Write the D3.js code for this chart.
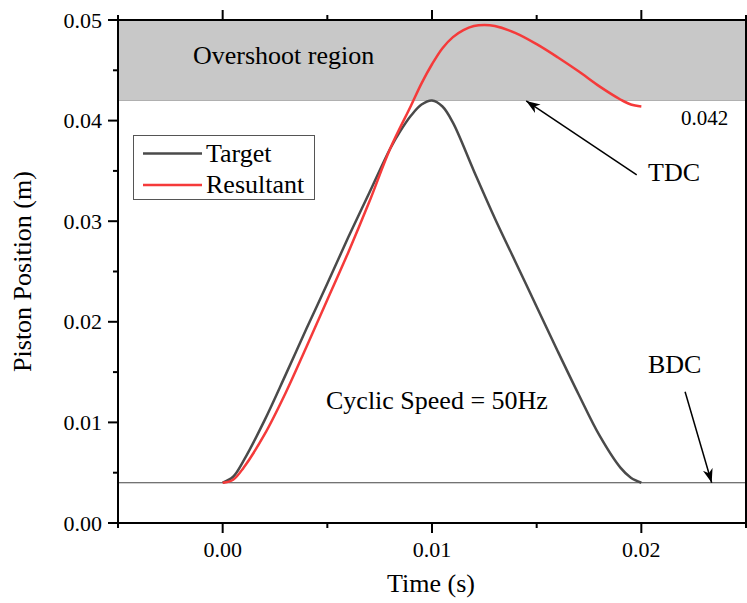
<!DOCTYPE html>
<html><head><meta charset="utf-8">
<script src="https://cdn.jsdelivr.net/npm/d3@7"></script>
<style>body{margin:0;background:#fff}svg{display:block}text{font-family:"Liberation Serif","Times New Roman",serif;fill:#000}</style>
</head><body><svg id="c" width="747" height="603"></svg>
<script>
// Data
const targetT = [0.0000,0.0005,0.0010,0.0020,0.0030,0.0040,0.0050,0.0060,0.0070,0.0080,0.0085,0.0090,0.0095,0.0100,0.0105,0.0110,0.0120,0.0130,0.0140,0.0150,0.0160,0.0170,0.0180,0.0190,0.0195,0.0200];
const targetV = [0.0040,0.0046,0.0062,0.0102,0.0147,0.0193,0.0238,0.0284,0.0328,0.0372,0.0390,0.0405,0.0416,0.0420,0.0414,0.0398,0.0350,0.0303,0.0259,0.0215,0.0171,0.0128,0.0087,0.0055,0.0045,0.0040];
const resultT = [0.0000,0.0005,0.0010,0.0020,0.0030,0.0040,0.0050,0.0060,0.0070,0.0080,0.0090,0.0095,0.0100,0.0105,0.0110,0.0115,0.0120,0.0125,0.0130,0.0140,0.0150,0.0160,0.0170,0.0180,0.0190,0.0195,0.0200];
const resultV = [0.0040,0.0043,0.0055,0.0088,0.0129,0.0175,0.0222,0.0269,0.0319,0.0372,0.0415,0.0437,0.0456,0.0472,0.0483,0.0490,0.0494,0.0495,0.0494,0.0487,0.0476,0.0463,0.0449,0.0434,0.0421,0.0416,0.0414];
const xTicks = [0.00,0.01,0.02];
const xMinor = [-0.005,0.005,0.015,0.025];
const yTicks = [0.00,0.01,0.02,0.03,0.04,0.05];
const yMinor = [0.005,0.015,0.025,0.035,0.045];
const seriesNames = ["Target","Resultant"];
const tdcLevel = 0.042, bdcLevel = 0.004, topLevel = 0.05;

const svg = d3.select("#c");
const L=118, R=746, T=20, B=523;
const x = d3.scaleLinear().domain([-0.005,0.025]).range([L,R]);
const y = d3.scaleLinear().domain([0,0.05]).range([B,T]);

svg.append("clipPath").attr("id","clip").append("rect").attr("x",L).attr("y",T).attr("width",R-L).attr("height",B-T);
const plot = svg.append("g").attr("clip-path","url(#clip)");

// Overshoot region
plot.append("rect").attr("x",L).attr("y",y(topLevel)).attr("width",R-L).attr("height",y(tdcLevel)-y(topLevel)).attr("fill","#c8c8c8");
plot.append("line").attr("x1",L).attr("x2",R).attr("y1",y(tdcLevel)).attr("y2",y(tdcLevel)).attr("stroke","#b0b0b0").attr("stroke-width",1.2);
// BDC line
plot.append("line").attr("x1",L).attr("x2",R).attr("y1",y(bdcLevel)).attr("y2",y(bdcLevel)).attr("stroke","#444").attr("stroke-width",1);

const line = d3.line().x(d=>x(d[0])).y(d=>y(d[1])).curve(d3.curveCatmullRom.alpha(0.5));
plot.append("path").datum(targetT.map((t,i)=>[t,targetV[i]])).attr("d",line).attr("fill","none").attr("stroke","#4a4a4a").attr("stroke-width",2.5);
plot.append("path").datum(resultT.map((t,i)=>[t,resultV[i]])).attr("d",line).attr("fill","none").attr("stroke","#f53a3a").attr("stroke-width",2.5);

// Axes
const ax = svg.append("g");
function ticks(g, scale, vals, len, orient){
  vals.forEach(v=>{
    const p = scale(v);
    if(orient==="bottom") g.append("line").attr("x1",p).attr("x2",p).attr("y1",B).attr("y2",B+len);
    if(orient==="top") g.append("line").attr("x1",p).attr("x2",p).attr("y1",T).attr("y2",T-len);
    if(orient==="left") g.append("line").attr("y1",p).attr("y2",p).attr("x1",L).attr("x2",L-len);
    if(orient==="right") g.append("line").attr("y1",p).attr("y2",p).attr("x1",R).attr("x2",R+len);
  });
}
const tg = ax.append("g").attr("stroke","#000").attr("stroke-width",2);
ticks(tg,x,xTicks,10,"bottom"); ticks(tg,x,xMinor,5,"bottom");
ticks(tg,x,xTicks,10,"top"); ticks(tg,x,xMinor,5,"top");
ticks(tg,y,yTicks,10,"left"); ticks(tg,y,yMinor,5,"left");
ticks(tg,y,yTicks,10,"right"); ticks(tg,y,yMinor,5,"right");
ax.append("rect").attr("x",L).attr("y",T).attr("width",R-L).attr("height",B-T).attr("fill","none").attr("stroke","#000").attr("stroke-width",2);

const fmt = d3.format(".2f");
ax.selectAll(".xl").data(xTicks).enter().append("text").attr("x",d=>x(d)).attr("y",557).attr("text-anchor","middle").attr("font-size",22).text(fmt);
ax.selectAll(".yl").data(yTicks).enter().append("text").attr("x",102).attr("y",d=>y(d)+7.5).attr("text-anchor","end").attr("font-size",22).text(fmt);

svg.append("text").attr("x",(L+R)/2-1).attr("y",592).attr("text-anchor","middle").attr("font-size",26).text("Time (s)");
svg.append("text").attr("transform",`translate(31,${(T+B)/2}) rotate(-90)`).attr("text-anchor","middle").attr("font-size",26).text("Piston Position (m)");

// Legend
const lg = svg.append("g");
lg.append("rect").attr("x",133.5).attr("y",135.5).attr("width",181).attr("height",64).attr("fill","#fff").attr("stroke","#555").attr("stroke-width",1);
const lcol = ["#4a4a4a","#f53a3a"];
seriesNames.forEach((n,i)=>{
  const yy = 153.5 + i*31.5;
  lg.append("line").attr("x1",143).attr("x2",202).attr("y1",yy).attr("y2",yy).attr("stroke",lcol[i]).attr("stroke-width",2.5);
  lg.append("text").attr("x",206).attr("y",yy+8).attr("font-size",26).text(n);
});

// Annotations
svg.append("text").attr("x",193).attr("y",64).attr("font-size",26).text("Overshoot region");
svg.append("text").attr("x",681).attr("y",125).attr("font-size",21).text(d3.format(".3f")(tdcLevel));
svg.append("text").attr("x",648).attr("y",181).attr("font-size",26).text("TDC");
svg.append("text").attr("x",648).attr("y",373).attr("font-size",26).text("BDC");
svg.append("text").attr("x",326).attr("y",409).attr("font-size",26).text("Cyclic Speed = 50Hz");

const defs = svg.append("defs");
defs.append("marker").attr("id","arr").attr("viewBox","-14 -6 15 12").attr("refX",0).attr("refY",0)
  .attr("markerWidth",15).attr("markerHeight",12).attr("markerUnits","userSpaceOnUse").attr("orient","auto")
  .append("path").attr("d","M0,0 L-14,-5 L-10,0 L-14,5 Z").attr("fill","#000");
svg.append("line").attr("x1",x(0.01978)).attr("y1",y(0.0346)).attr("x2",x(0.0145)).attr("y2",y(tdcLevel)+0.5)
  .attr("stroke","#000").attr("stroke-width",1.5).attr("marker-end","url(#arr)");
svg.append("line").attr("x1",x(0.02209)).attr("y1",y(0.01305)).attr("x2",x(0.02336)).attr("y2",y(bdcLevel))
  .attr("stroke","#000").attr("stroke-width",1.5).attr("marker-end","url(#arr)");
</script></body></html>
